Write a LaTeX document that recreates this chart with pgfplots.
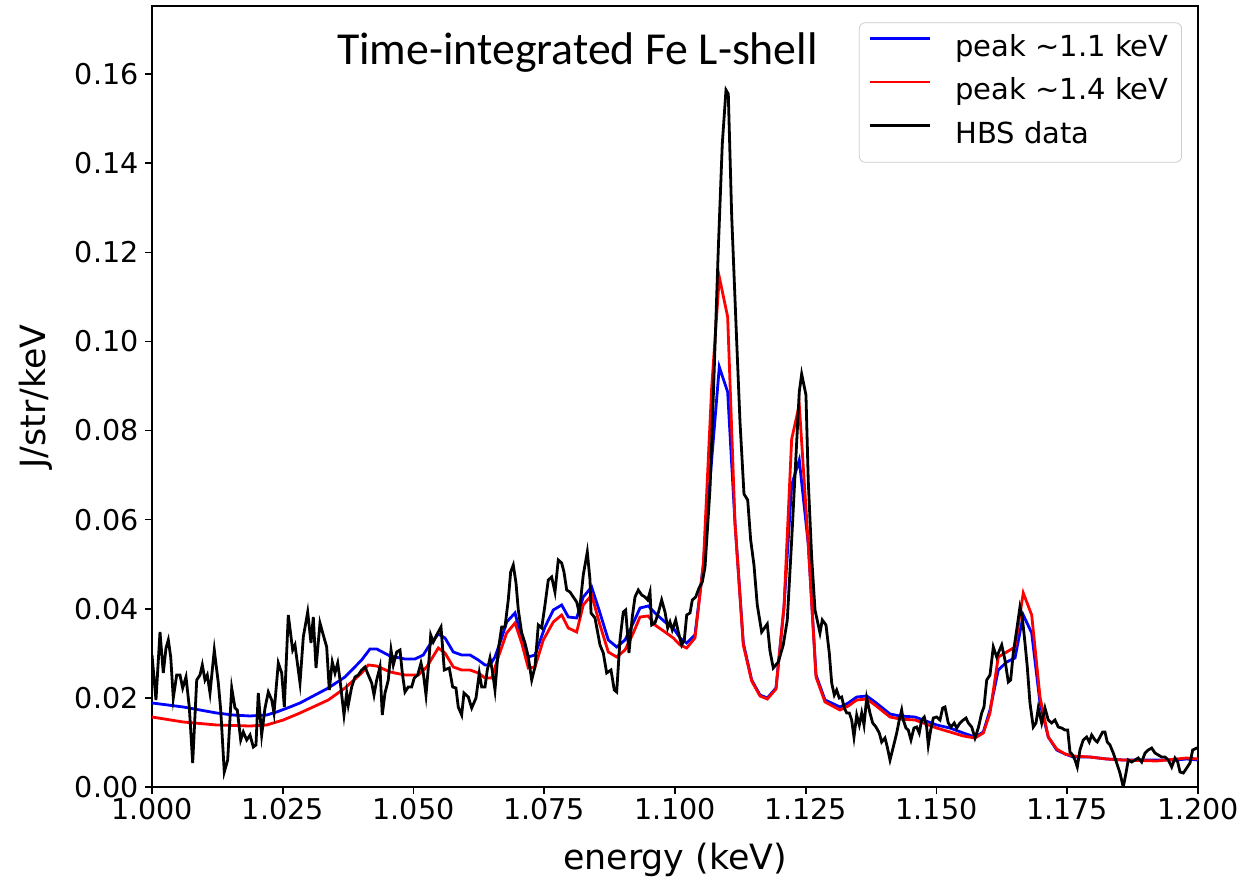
\documentclass[border=0pt]{standalone}
\usepackage{fontspec}
\setmainfont{DejaVu Sans}
\newfontfamily\titlefont{Carlito}
\usepackage{pgfplots}
\pgfplotsset{compat=1.18}
\begin{document}
\begin{tikzpicture}
\begin{axis}[
  scale only axis, width=523pt, height=390.5pt,
  xmin=1.0, xmax=1.2, ymin=0, ymax=0.1753,
  xtick={1.000,1.025,1.050,1.075,1.100,1.125,1.150,1.175,1.200},
  ytick={0,0.02,0.04,0.06,0.08,0.10,0.12,0.14,0.16},
  scaled x ticks=false, scaled y ticks=false,
  /pgf/number format/assume math mode=true,
  tick label style={font=\fontsize{14.3}{17}\selectfont},
  xticklabel style={inner ysep=2pt, /pgf/number format/.cd, fixed, fixed zerofill, precision=3},
  yticklabel style={inner xsep=3pt, /pgf/number format/.cd, fixed, fixed zerofill, precision=2},
  tick align=outside, tick pos=left, major tick length=3.5pt,
  every tick/.style={black, line width=0.8pt},
  axis line style={line width=0.8pt},
  xlabel={energy (keV)}, ylabel={J/str/keV},
  label style={font=\fontsize{17.4}{20}\selectfont},
  xlabel style={at={(axis description cs:0.5,-0.0935)}, anchor=center},
  ylabel style={at={(axis description cs:-0.111,0.5)}, anchor=center},
  title={Time-integrated Fe L-shell},
  title style={at={(axis description cs:0.4068,0.9095)}, anchor=base, font=\titlefont\fontsize{22.9}{26}\selectfont},
  legend style={at={(axis description cs:0.9847,0.9791)}, anchor=north east, draw=black!20, rounded corners=3pt, fill=white, fill opacity=0.8, text opacity=1, font=\fontsize{14.5}{17}\selectfont, inner xsep=4.5pt, inner ysep=4pt, row sep=3pt, nodes={inner sep=2pt, text height=11pt, text depth=3.6pt}},
  legend cell align=left,
  legend image code/.code={\draw[#1, line width=1.4pt] (0pt,5.3pt) -- (30pt,5.3pt); \path (40.2pt,5.3pt);},
]
\addplot[blue, line width=1.4pt] coordinates {
(1.00000,0.01886)(1.00598,0.01796)(1.01237,0.01661)(1.01549,0.01616)(1.01874,0.01594)(1.02193,0.01616)(1.02384,0.01684)(1.02639,0.01796)(1.02830,0.01886)(1.03371,0.02222)(1.03690,0.02469)(1.04009,0.02851)(1.04168,0.03098)(1.04296,0.03098)(1.04551,0.02941)(1.04837,0.02873)(1.05029,0.02873)(1.05187,0.02963)(1.05283,0.03143)(1.05474,0.03434)(1.05602,0.03345)(1.05761,0.03030)(1.05921,0.02963)(1.06080,0.02963)(1.06239,0.02851)(1.06367,0.02739)(1.06463,0.02739)(1.06558,0.02918)(1.06686,0.03345)(1.06782,0.03704)(1.06941,0.03906)(1.07036,0.03479)(1.07195,0.02918)(1.07323,0.02963)(1.07514,0.03591)(1.07673,0.03973)(1.07833,0.04085)(1.07960,0.03816)(1.08120,0.03794)(1.08246,0.04265)(1.08406,0.04489)(1.08566,0.03906)(1.08725,0.03300)(1.08885,0.03143)(1.09044,0.03300)(1.09202,0.03681)(1.09331,0.04018)(1.09489,0.04063)(1.09617,0.03906)(1.09809,0.03704)(1.09967,0.03569)(1.10096,0.03345)(1.10224,0.03232)(1.10382,0.03412)(1.10541,0.04983)(1.10701,0.07340)(1.10847,0.09428)(1.11007,0.08866)(1.11147,0.05926)(1.11306,0.03232)(1.11466,0.02402)(1.11625,0.02065)(1.11765,0.01998)(1.11931,0.02222)(1.12084,0.04040)(1.12231,0.06779)(1.12376,0.07340)(1.12548,0.05455)(1.12696,0.02514)(1.12868,0.01953)(1.13155,0.01796)(1.13314,0.01886)(1.13474,0.02020)(1.13665,0.02043)(1.13824,0.01908)(1.14111,0.01639)(1.14302,0.01594)(1.14589,0.01571)(1.14748,0.01504)(1.15003,0.01392)(1.15258,0.01324)(1.15512,0.01212)(1.15736,0.01122)(1.15895,0.01235)(1.16023,0.01728)(1.16181,0.02626)(1.16342,0.02806)(1.16501,0.02896)(1.16659,0.03861)(1.16820,0.03457)(1.16979,0.01886)(1.17137,0.01122)(1.17298,0.00831)(1.17457,0.00741)(1.17616,0.00673)(1.17935,0.00673)(1.18254,0.00629)(1.18571,0.00606)(1.19210,0.00606)(1.19592,0.00606)(1.19784,0.00629)(1.20000,0.00606)
};
\addlegendentry{peak \textasciitilde1.1 keV}
\addplot[red, line width=1.4pt] coordinates {
(1.00000,0.01571)(1.00598,0.01459)(1.01237,0.01392)(1.01874,0.01369)(1.02193,0.01392)(1.02510,0.01504)(1.02830,0.01661)(1.03371,0.01953)(1.03690,0.02222)(1.04009,0.02559)(1.04136,0.02739)(1.04296,0.02716)(1.04551,0.02582)(1.04837,0.02514)(1.05092,0.02514)(1.05252,0.02694)(1.05474,0.03120)(1.05602,0.03008)(1.05761,0.02694)(1.05921,0.02626)(1.06080,0.02626)(1.06239,0.02559)(1.06367,0.02447)(1.06495,0.02447)(1.06621,0.02918)(1.06782,0.03457)(1.06941,0.03681)(1.07069,0.03232)(1.07195,0.02671)(1.07323,0.02694)(1.07482,0.03300)(1.07673,0.03704)(1.07833,0.03861)(1.07960,0.03569)(1.08120,0.03479)(1.08246,0.04085)(1.08406,0.04310)(1.08566,0.03636)(1.08725,0.03030)(1.08885,0.02918)(1.09044,0.03075)(1.09202,0.03457)(1.09331,0.03816)(1.09489,0.03839)(1.09617,0.03636)(1.09809,0.03479)(1.09967,0.03345)(1.10096,0.03188)(1.10224,0.03120)(1.10382,0.03345)(1.10541,0.04983)(1.10701,0.08957)(1.10847,0.11448)(1.11007,0.10550)(1.11147,0.05926)(1.11306,0.03188)(1.11466,0.02379)(1.11625,0.02043)(1.11765,0.01975)(1.11931,0.02200)(1.12084,0.04040)(1.12231,0.07811)(1.12376,0.08575)(1.12548,0.05455)(1.12696,0.02469)(1.12868,0.01908)(1.13155,0.01728)(1.13314,0.01818)(1.13474,0.01953)(1.13665,0.01975)(1.13824,0.01841)(1.14111,0.01571)(1.14302,0.01526)(1.14589,0.01504)(1.14748,0.01437)(1.15003,0.01324)(1.15258,0.01235)(1.15512,0.01145)(1.15736,0.01100)(1.15895,0.01212)(1.16023,0.01661)(1.16181,0.02918)(1.16342,0.03030)(1.16501,0.03143)(1.16659,0.04355)(1.16820,0.03861)(1.16979,0.02020)(1.17137,0.01122)(1.17298,0.00853)(1.17457,0.00741)(1.17616,0.00696)(1.17935,0.00673)(1.18254,0.00629)(1.18571,0.00606)(1.19210,0.00584)(1.19592,0.00629)(1.19784,0.00651)(1.20000,0.00629)
};
\addlegendentry{peak \textasciitilde1.4 keV}
\addplot[black, line width=1.4pt] coordinates {
(1.00000,0.02963)(1.00076,0.01953)(1.00153,0.03479)(1.00216,0.02559)(1.00268,0.03120)(1.00312,0.03300)(1.00358,0.02918)(1.00407,0.01998)(1.00472,0.02514)(1.00535,0.02514)(1.00587,0.02222)(1.00650,0.02469)(1.00713,0.01796)(1.00778,0.00539)(1.00855,0.02402)(1.00918,0.02514)(1.00962,0.02739)(1.01013,0.02402)(1.01057,0.02514)(1.01109,0.02110)(1.01191,0.03075)(1.01268,0.02335)(1.01314,0.01728)(1.01382,0.00337)(1.01447,0.00606)(1.01524,0.02222)(1.01587,0.01773)(1.01631,0.01728)(1.01696,0.01055)(1.01746,0.01235)(1.01811,0.01055)(1.01874,0.01167)(1.01937,0.00898)(1.01988,0.00943)(1.02032,0.02110)(1.02097,0.01167)(1.02161,0.01773)(1.02224,0.02132)(1.02289,0.01953)(1.02333,0.01661)(1.02415,0.02783)(1.02480,0.02559)(1.02530,0.01796)(1.02606,0.03861)(1.02690,0.03075)(1.02734,0.03188)(1.02797,0.02626)(1.02830,0.02335)(1.02893,0.03367)(1.02977,0.03928)(1.03040,0.03232)(1.03084,0.03816)(1.03136,0.02671)(1.03212,0.03681)(1.03275,0.03412)(1.03340,0.03143)(1.03390,0.02177)(1.03447,0.02806)(1.03499,0.02559)(1.03551,0.02783)(1.03595,0.02402)(1.03671,0.01616)(1.03723,0.02110)(1.03753,0.01841)(1.03818,0.02245)(1.03881,0.02469)(1.03944,0.02514)(1.04009,0.02626)(1.04073,0.02694)(1.04136,0.02514)(1.04201,0.02335)(1.04245,0.02065)(1.04296,0.02402)(1.04359,0.02694)(1.04403,0.01616)(1.04455,0.02110)(1.04518,0.02402)(1.04570,0.03075)(1.04614,0.02739)(1.04679,0.03030)(1.04742,0.03075)(1.04786,0.02559)(1.04837,0.02132)(1.04900,0.02245)(1.04965,0.02245)(1.05015,0.02447)(1.05080,0.02514)(1.05143,0.02783)(1.05187,0.02559)(1.05239,0.02065)(1.05296,0.02851)(1.05329,0.03412)(1.05378,0.03255)(1.05443,0.03412)(1.05526,0.03591)(1.05589,0.02626)(1.05684,0.02671)(1.05749,0.02245)(1.05812,0.02222)(1.05856,0.01796)(1.05921,0.01616)(1.05965,0.02110)(1.06048,0.02020)(1.06113,0.01773)(1.06195,0.01998)(1.06258,0.02559)(1.06304,0.02245)(1.06367,0.02245)(1.06411,0.02626)(1.06463,0.02896)(1.06514,0.02559)(1.06558,0.02177)(1.06621,0.03075)(1.06686,0.03591)(1.06749,0.03591)(1.06812,0.04198)(1.06858,0.04826)(1.06908,0.04983)(1.06960,0.04579)(1.07004,0.03973)(1.07069,0.03457)(1.07132,0.03232)(1.07195,0.02918)(1.07260,0.02402)(1.07323,0.02694)(1.07386,0.03636)(1.07451,0.03569)(1.07514,0.04085)(1.07577,0.04647)(1.07642,0.04714)(1.07705,0.04377)(1.07768,0.05095)(1.07833,0.05028)(1.07877,0.04826)(1.07929,0.04422)(1.07992,0.04377)(1.08055,0.04265)(1.08120,0.04153)(1.08170,0.03906)(1.08246,0.04759)(1.08323,0.05275)(1.08375,0.04647)(1.08394,0.03906)(1.08470,0.03794)(1.08566,0.03188)(1.08629,0.03008)(1.08694,0.02559)(1.08776,0.02626)(1.08839,0.02177)(1.08885,0.02132)(1.08948,0.03300)(1.09011,0.03928)(1.09057,0.03973)(1.09120,0.03008)(1.09183,0.03816)(1.09235,0.04265)(1.09298,0.04422)(1.09363,0.04310)(1.09426,0.04265)(1.09478,0.04198)(1.09522,0.04377)(1.09554,0.03636)(1.09617,0.03681)(1.09680,0.03906)(1.09745,0.04198)(1.09809,0.03928)(1.09860,0.03569)(1.09904,0.03704)(1.09948,0.03524)(1.10013,0.03749)(1.10063,0.03479)(1.10128,0.03188)(1.10178,0.03300)(1.10224,0.03861)(1.10287,0.03906)(1.10331,0.04198)(1.10396,0.04265)(1.10459,0.04467)(1.10522,0.04602)(1.10574,0.04938)(1.10669,0.06689)(1.10732,0.08754)(1.10828,0.12077)(1.10904,0.14433)(1.10975,0.15645)(1.11019,0.15556)(1.11084,0.12817)(1.11180,0.09989)(1.11243,0.08193)(1.11319,0.06577)(1.11390,0.06442)(1.11447,0.05544)(1.11510,0.04983)(1.11573,0.04085)(1.11657,0.03479)(1.11764,0.03659)(1.11816,0.03053)(1.11879,0.02671)(1.11975,0.02806)(1.12070,0.03188)(1.12147,0.03749)(1.12231,0.05544)(1.12313,0.07430)(1.12376,0.08866)(1.12422,0.09270)(1.12504,0.08799)(1.12548,0.06869)(1.12613,0.05163)(1.12677,0.03973)(1.12772,0.03457)(1.12816,0.03749)(1.12887,0.03636)(1.12950,0.03008)(1.12996,0.02335)(1.13046,0.02065)(1.13091,0.02177)(1.13141,0.01998)(1.13187,0.02020)(1.13237,0.01773)(1.13283,0.01661)(1.13333,0.01661)(1.13378,0.01504)(1.13422,0.01122)(1.13474,0.01616)(1.13524,0.01392)(1.13570,0.01661)(1.13614,0.01392)(1.13665,0.01998)(1.13728,0.01661)(1.13780,0.01437)(1.13843,0.01347)(1.13906,0.01212)(1.13952,0.01010)(1.14015,0.01100)(1.14059,0.00898)(1.14111,0.00606)(1.14174,0.00898)(1.14239,0.01212)(1.14288,0.01504)(1.14334,0.01728)(1.14365,0.01504)(1.14416,0.01324)(1.14460,0.01279)(1.14512,0.01055)(1.14569,0.01324)(1.14621,0.01347)(1.14670,0.01212)(1.14716,0.01504)(1.14766,0.01571)(1.14812,0.01347)(1.14843,0.00943)(1.14889,0.01279)(1.14939,0.01549)(1.15003,0.01571)(1.15067,0.01504)(1.15118,0.01773)(1.15162,0.01796)(1.15225,0.01437)(1.15277,0.01347)(1.15340,0.01437)(1.15386,0.01324)(1.15449,0.01437)(1.15512,0.01504)(1.15564,0.01549)(1.15608,0.01437)(1.15673,0.01347)(1.15736,0.01100)(1.15799,0.01324)(1.15864,0.01661)(1.15908,0.01796)(1.15960,0.02402)(1.16023,0.02514)(1.16086,0.03143)(1.16151,0.02918)(1.16247,0.03188)(1.16309,0.02851)(1.16373,0.02357)(1.16418,0.02402)(1.16468,0.03008)(1.16533,0.03524)(1.16596,0.04040)(1.16640,0.03816)(1.16692,0.03232)(1.16736,0.02694)(1.16787,0.01886)(1.16850,0.01347)(1.16902,0.01437)(1.16946,0.01773)(1.17011,0.01437)(1.17074,0.01773)(1.17137,0.01504)(1.17202,0.01437)(1.17265,0.01504)(1.17328,0.01347)(1.17393,0.01324)(1.17457,0.01279)(1.17509,0.01279)(1.17552,0.00786)(1.17604,0.00718)(1.17648,0.00606)(1.17692,0.00449)(1.17743,0.00831)(1.17806,0.01055)(1.17871,0.01122)(1.17921,0.01010)(1.17967,0.01167)(1.18030,0.01055)(1.18074,0.01010)(1.18126,0.01122)(1.18177,0.01235)(1.18221,0.01235)(1.18265,0.01010)(1.18317,0.00943)(1.18380,0.00763)(1.18445,0.00539)(1.18508,0.00314)(1.18571,0.00000)(1.18623,0.00314)(1.18667,0.00606)(1.18732,0.00561)(1.18795,0.00606)(1.18858,0.00651)(1.18923,0.00561)(1.18987,0.00763)(1.19049,0.00831)(1.19114,0.00875)(1.19178,0.00763)(1.19241,0.00718)(1.19306,0.00673)(1.19369,0.00673)(1.19432,0.00606)(1.19497,0.00449)(1.19560,0.00651)(1.19612,0.00561)(1.19656,0.00337)(1.19719,0.00314)(1.19784,0.00426)(1.19847,0.00539)(1.19898,0.00831)(1.19975,0.00875)(1.20000,0.00875)
};
\addlegendentry{HBS data}
\end{axis}
\pgfresetboundingbox
\path[use as bounding box] ([shift={(-76pt,-48.5pt)}]current axis.south west) rectangle ([shift={(22pt,3pt)}]current axis.north east);
\end{tikzpicture}
\end{document}
